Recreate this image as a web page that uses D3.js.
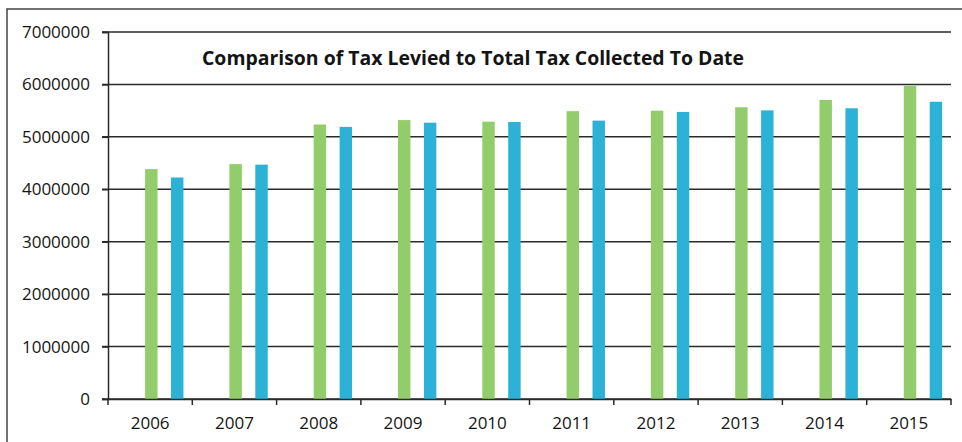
<!DOCTYPE html>
<html>
<head>
<meta charset="utf-8">
<script src="https://cdn.jsdelivr.net/npm/d3@7"></script>
<style>
  body { margin: 0; background: #fff; }
  svg text { font-family: "Open Sans", sans-serif; fill: #141414; }
</style>
</head>
<body>
<div id="chart"></div>
<script>
const years = ["2006", "2007", "2008", "2009", "2010", "2011", "2012", "2013", "2014", "2015"];
const taxLevied = [4385000, 4480000, 5235000, 5320000, 5290000, 5490000, 5500000, 5565000, 5705000, 5975000];
const taxCollected = [4225000, 4470000, 5190000, 5270000, 5283000, 5310000, 5475000, 5505000, 5545000, 5670000];
const yTicks = [0, 1000000, 2000000, 3000000, 4000000, 5000000, 6000000, 7000000];
const seriesNames = ["Tax Levied", "Tax Collected"];

const width = 962;
const height = 442;
const margin = { top: 32, right: 11, bottom: 43, left: 108 };

const svg = d3.select("#chart")
  .append("svg")
  .attr("width", width)
  .attr("height", height);

// chart frame (scanned page border)
svg.append("path")
  .attr("d", `M7,${height} V9 H${width}`)
  .attr("fill", "none")
  .attr("stroke", "#444")
  .attr("stroke-width", 1.5);

const x = d3.scaleBand()
  .domain(years)
  .range([margin.left, width - margin.right]);

const xSeries = d3.scaleBand()
  .domain(seriesNames)
  .range([x.bandwidth() * 0.44, x.bandwidth() * 0.895])
  .paddingInner(0.52);

const y = d3.scaleLinear()
  .domain([0, 7000000])
  .range([height - margin.bottom, margin.top]);

const color = d3.scaleOrdinal()
  .domain(seriesNames)
  .range(["#93cd6b", "#2bb2d6"]);

// gridlines
svg.append("g")
  .selectAll("line")
  .data(yTicks)
  .join("line")
  .attr("x1", margin.left - 6)
  .attr("x2", width - margin.right)
  .attr("y1", d => y(d))
  .attr("y2", d => y(d))
  .attr("stroke", "#2a2a2a")
  .attr("stroke-width", 1.5);

// bars
const rows = years.map((yr, i) => ({ year: yr, values: [taxLevied[i], taxCollected[i]] }));

svg.append("g")
  .selectAll("g")
  .data(rows)
  .join("g")
  .attr("transform", d => `translate(${x(d.year)},0)`)
  .selectAll("rect")
  .data(d => d.values.map((v, j) => ({ name: seriesNames[j], value: v })))
  .join("rect")
  .attr("x", d => xSeries(d.name))
  .attr("width", xSeries.bandwidth())
  .attr("y", d => y(d.value))
  .attr("height", d => y(0) - y(d.value))
  .attr("fill", d => color(d.name));

// y axis
const yAxis = svg.append("g")
  .attr("transform", `translate(${margin.left},0)`)
  .call(d3.axisLeft(y).tickValues(yTicks).tickFormat(d3.format("d")).tickSize(6).tickPadding(12));
yAxis.select(".domain").attr("stroke", "#2a2a2a").attr("stroke-width", 1.5);
yAxis.selectAll(".tick line").attr("stroke", "#2a2a2a").attr("stroke-width", 1.5);
yAxis.selectAll("text")
  .style("font-size", "17px")
  .attr("fill", "#141414");

// x axis
const xAxis = svg.append("g")
  .attr("transform", `translate(0,${y(0)})`)
  .call(d3.axisBottom(x).tickSize(0).tickPadding(18));
xAxis.select(".domain").attr("stroke", "#2a2a2a").attr("stroke-width", 1.5);
xAxis.selectAll("text")
  .style("font-size", "17px")
  .attr("fill", "#141414");

// category boundary ticks
svg.append("g")
  .selectAll("line")
  .data(years.concat(["end"]))
  .join("line")
  .attr("x1", (d, i) => i < years.length ? x(d) : x(years[years.length - 1]) + x.bandwidth())
  .attr("x2", (d, i) => i < years.length ? x(d) : x(years[years.length - 1]) + x.bandwidth())
  .attr("y1", y(0))
  .attr("y2", y(0) + 6)
  .attr("stroke", "#2a2a2a")
  .attr("stroke-width", 1.5);

// title
svg.append("text")
  .attr("x", 473)
  .attr("y", 65)
  .attr("text-anchor", "middle")
  .attr("textLength", 542)
  .attr("lengthAdjust", "spacingAndGlyphs")
  .style("font-size", "20px")
  .style("font-weight", "bold")
  .text("Comparison of Tax Levied to Total Tax Collected To Date");
</script>
</body>
</html>
